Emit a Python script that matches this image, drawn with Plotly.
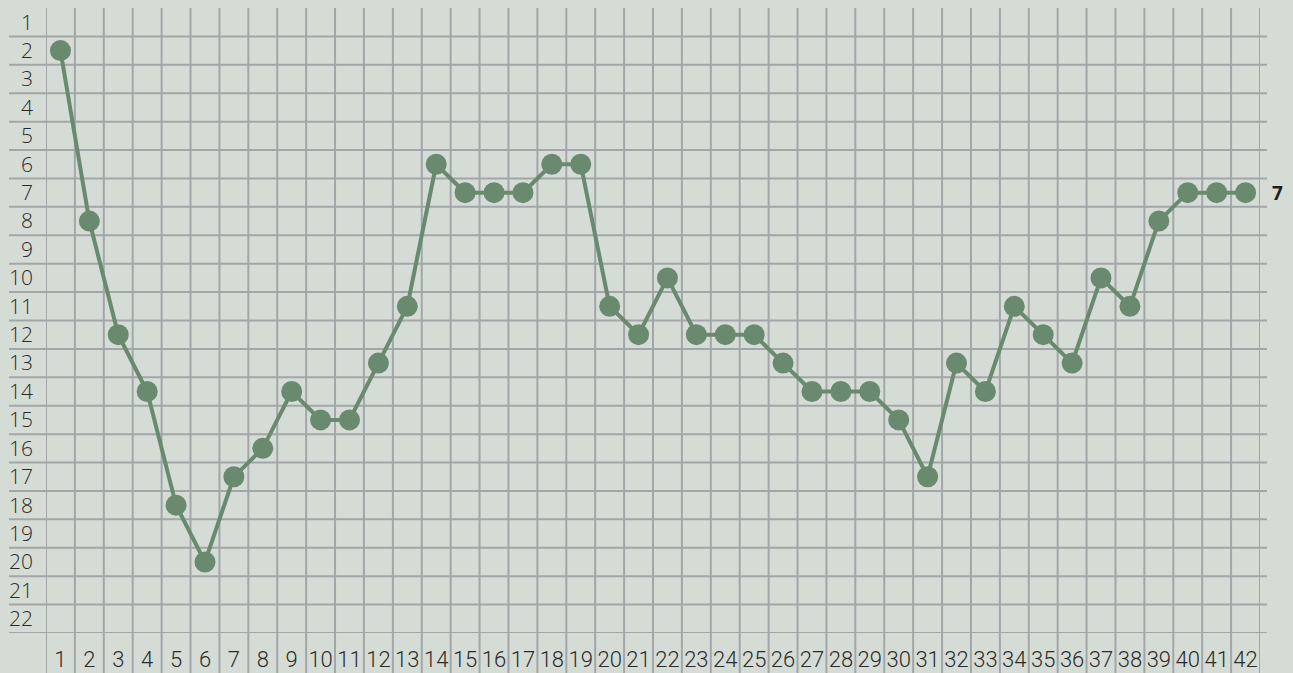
import plotly.graph_objects as go

# Matchdays and league position after each round
rounds = list(range(1, 43))
positions = [2, 8, 12, 14, 18, 20, 17, 16, 14, 15, 15, 13, 11, 6, 7, 7, 7, 6, 6, 11,
             12, 10, 12, 12, 12, 13, 14, 14, 14, 15, 17, 13, 14, 11, 12, 13, 10, 11, 8, 7,
             7, 7]
rank_ticks = list(range(1, 23))

BG = "#d5dcd5"
GRID = "#a2a6a9"
LINE = "#698a6e"
TEXT = "#2b2b2b"

W, H = 1293, 673
ML, MR, MT, MB = 46, 33, 8, 40
PW, PH = W - ML - MR, H - MT - MB

fig = go.Figure()

fig.add_trace(go.Scatter(
    x=rounds, y=positions, mode="lines+markers",
    line=dict(color=LINE, width=4),
    marker=dict(color=LINE, size=21, line=dict(width=0)),
    hoverinfo="x+y", showlegend=False, cliponaxis=False,
))

shapes = []
# horizontal row separators, running past the plot on both sides
for r in rank_ticks:
    shapes.append(dict(type="line", xref="paper", yref="y",
                       x0=(9 - ML) / PW, x1=(1267 - ML) / PW, y0=r + 0.5, y1=r + 0.5,
                       line=dict(color=GRID, width=2), layer="below"))
# vertical column separators, reaching down through the round labels
for c in range(0, len(rounds) + 1):
    shapes.append(dict(type="line", xref="x", yref="paper",
                       x0=c + 0.5, x1=c + 0.5, y0=-MB / PH, y1=1,
                       line=dict(color=GRID, width=2), layer="below"))

fig.add_annotation(x=rounds[-1], y=positions[-1], xref="x", yref="y",
                   text=str(positions[-1]), showarrow=False, xanchor="left",
                   xshift=24, font=dict(family="Open Sans", size=19, color="#1e1e1e", weight="bold"))

fig.update_layout(
    width=W, height=H,
    margin=dict(l=ML, r=MR, t=MT, b=MB, pad=0),
    paper_bgcolor=BG, plot_bgcolor=BG,
    shapes=shapes,
    xaxis=dict(range=[0.5, 42.5], tickvals=rounds, ticktext=[str(v) for v in rounds],
               showgrid=False, zeroline=False, showline=False, ticks="", automargin=False,
               tickfont=dict(family="Roboto", size=22, color=TEXT, weight=300),
               ticklabelstandoff=11, fixedrange=True),
    yaxis=dict(range=[22.5, 0.5], tickvals=rank_ticks, ticktext=[str(v) for v in rank_ticks],
               showgrid=False, zeroline=False, showline=False, ticks="", automargin=False,
               tickfont=dict(family="Open Sans", size=21, color=TEXT, weight=300),
               ticklabelstandoff=12, fixedrange=True),
)

fig.write_html("out.html")
